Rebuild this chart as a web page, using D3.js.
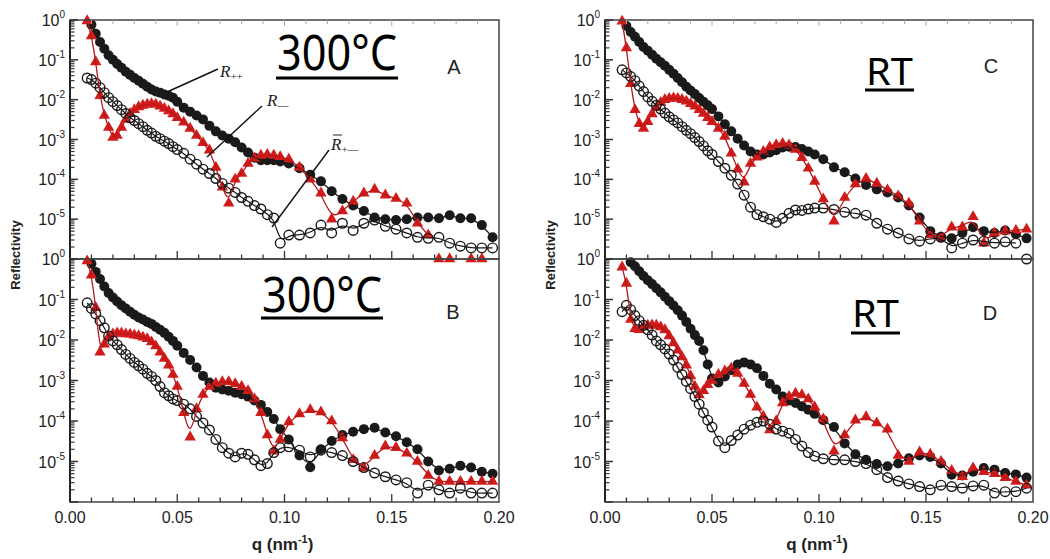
<!DOCTYPE html>
<html>
<head>
<meta charset="UTF-8">
<title>Reflectivity</title>
<script src="https://cdn.jsdelivr.net/npm/d3@7"></script>
<style>
  body { margin: 0; background: #fff; }
  svg { display: block; font-family: "Liberation Sans", Arial, sans-serif; }
</style>
</head>
<body>
<svg id="chart" width="1050" height="559"></svg>
<script>
// q grid shared by all panels (nm^-1)
var q = [
  0.008, 0.010, 0.012, 0.014, 0.016, 0.018, 0.020, 0.022, 0.024, 0.026, 0.028,
  0.030, 0.032, 0.034, 0.036, 0.038, 0.040, 0.042, 0.044, 0.046, 0.048, 0.050,
  0.053, 0.056, 0.059, 0.062, 0.065, 0.068, 0.071, 0.074, 0.077, 0.080, 0.083,
  0.086, 0.089, 0.092, 0.095, 0.098,
  0.102, 0.107, 0.112, 0.117, 0.122, 0.127, 0.132, 0.137, 0.142, 0.147, 0.152,
  0.157, 0.162, 0.167, 0.172, 0.177, 0.182, 0.187, 0.192, 0.197
];

// panel A (300C)
var A_pp = [
  null, 0.76, 0.45, 0.28, 0.19, 0.13, 0.1, 0.079, 0.063, 0.05, 0.042, 0.035, 0.03, 0.025, 0.021, 0.018, 0.016, 0.015, 0.0135, 0.0126, 0.0112, 0.0089,
  0.0063, 0.005, 0.004, 0.0032, 0.0022, 0.0016, 0.00126, 0.00105, 8.5e-4, 6.3e-4, 4.7e-4, 3.5e-4, 3.0e-4, 3.0e-4, 3.0e-4, 2.8e-4,
  2.5e-4, 1.9e-4, 1.3e-4, 8.9e-5, 5.0e-5, 3.2e-5, 2.2e-5, 1.6e-5, 1.1e-5, 1.0e-5, 9.5e-6, 1.0e-5, 1.1e-5, 1.1e-5, 1.05e-5, 1.26e-5, 1.05e-5, 1.05e-5, 7.1e-6, 3.5e-6
];
var A_mm = [
  0.95, 0.4, 0.089, 0.0126, 0.004, 0.002, 0.00112, 0.00126, 0.002, 0.0032, 0.0045, 0.0056, 0.0066, 0.0072, 0.0076, 0.0079, 0.0076, 0.0068, 0.006, 0.0052, 0.0044, 0.0035,
  0.0027, 0.0019, 0.00126, 8.3e-4, 5.4e-4, 2.0e-4, 6.3e-5, 2.5e-5, 1.0e-4, 1.4e-4, 2.5e-4, 3.4e-4, 4.0e-4, 4.2e-4, 4.0e-4, 3.7e-4,
  3.2e-4, 2.0e-4, 1.0e-4, 4.5e-5, 1.0e-5, 1.6e-5, 2.8e-5, 4.5e-5, 5.6e-5, 4.0e-5, 3.3e-5, 2.5e-5, 7.9e-6, 4.0e-6, 1.0e-6, 1.0e-6, null, 1.0e-6, 1.0e-6, null
];
var A_pm = [
  0.035, 0.032, 0.026, 0.02, 0.015, 0.0112, 0.0089, 0.0071, 0.0056, 0.0045, 0.0035, 0.003, 0.0025, 0.0021, 0.0017, 0.00145, 0.0012, 0.00105, 9.1e-4, 7.9e-4, 6.6e-4, 5.6e-4,
  4.5e-4, 3.2e-4, 2.4e-4, 1.8e-4, 1.4e-4, 1.05e-4, 7.9e-5, 6.0e-5, 4.7e-5, 3.5e-5, 2.8e-5, 2.2e-5, 1.8e-5, 1.3e-5, 1.07e-5, 2.5e-6,
  4.0e-6, 4.0e-6, 4.5e-6, 7.1e-6, 4.5e-6, 7.9e-6, 5.2e-6, 7.9e-6, 9.5e-6, 6.6e-6, 5.6e-6, 4.5e-6, 3.5e-6, 3.3e-6, 3.5e-6, 2.5e-6, 2.1e-6, 1.9e-6, 1.9e-6, 1.9e-6
];

// panel B (300C)
var B_pp = [
  null, 0.76, 0.48, 0.32, 0.21, 0.145, 0.112, 0.089, 0.072, 0.06, 0.05, 0.042, 0.036, 0.032, 0.028, 0.025, 0.021, 0.018, 0.015, 0.012, 0.0095, 0.0072,
  0.0048, 0.0032, 0.0021, 0.0013, 8.9e-4, 6.6e-4, 6.0e-4, 5.6e-4, 5.0e-4, 4.6e-4, 4.0e-4, 3.2e-4, 2.5e-4, 1.66e-4, 1.12e-4, 6.3e-5,
  3.5e-5, 1.4e-5, 7.2e-6, 2.0e-5, 3.2e-5, 4.5e-5, 5.4e-5, 6.3e-5, 6.8e-5, 5.2e-5, 4.2e-5, 3.0e-5, 2.0e-5, 1.0e-5, 6.0e-6, 6.6e-6, 7.9e-6, 7.1e-6, 5.6e-6, 5.0e-6
];
var B_mm = [
  0.89, 0.4, 0.063, 0.005, 0.0079, 0.012, 0.014, 0.0148, 0.0148, 0.014, 0.0138, 0.0132, 0.0126, 0.0117, 0.0107, 0.0089, 0.0071, 0.005, 0.0035, 0.0024, 0.0014, 7.1e-4,
  1.6e-4, 4.0e-5, 2.0e-4, 4.5e-4, 7.1e-4, 8.5e-4, 9.3e-4, 9.3e-4, 8.3e-4, 7.1e-4, 5.6e-4, 3.5e-4, 1.6e-4, 4.5e-5, 1.8e-5, 3.5e-5,
  9.5e-5, 1.5e-4, 1.9e-4, 1.66e-4, 1.0e-4, 3.8e-5, 1.1e-5, 6.9e-6, 1.4e-5, 2.4e-5, 2.2e-5, 1.6e-5, 1.0e-5, 4.5e-6, 3.2e-6, 3.2e-6, 3.2e-6, 3.2e-6, 3.2e-6, 3.2e-6
];
var B_pm = [
  0.083, 0.06, 0.044, 0.03, 0.02, 0.0126, 0.0095, 0.0076, 0.0058, 0.0044, 0.0035, 0.0028, 0.0023, 0.0019, 0.0015, 0.00126, 0.001, 7.1e-4, 5.0e-4, 4.2e-4, 3.5e-4, 3.2e-4,
  2.6e-4, 2.0e-4, 1.3e-4, 8.9e-5, 6.0e-5, 3.5e-5, 2.2e-5, 1.6e-5, 1.3e-5, 1.6e-5, 1.5e-5, 1.1e-5, 7.9e-6, 8.9e-6, 1.66e-5, 2.2e-5,
  2.3e-5, 1.9e-5, 1.3e-5, 1.9e-5, 1.66e-5, 1.4e-5, 1.0e-5, 7.1e-6, 5.2e-6, 4.2e-6, 3.5e-6, 3.0e-6, 1.66e-6, 2.6e-6, 2.0e-6, 1.66e-6, 2.2e-6, 1.66e-6, 1.66e-6, 1.66e-6
];

// panel C (RT)
var C_pp = [
  null, 0.71, 0.5, 0.38, 0.28, 0.21, 0.17, 0.135, 0.107, 0.087, 0.071, 0.056, 0.045, 0.035, 0.0275, 0.021, 0.017, 0.0138, 0.011, 0.0089, 0.0072, 0.0058,
  0.0038, 0.0024, 0.0016, 0.00105, 7.1e-4, 5.0e-4, 4.2e-4, 4.2e-4, 4.7e-4, 5.4e-4, 6.3e-4, 6.6e-4, 6.5e-4, 5.8e-4, 5.0e-4, 4.2e-4,
  3.2e-4, 2.0e-4, 1.5e-4, 1.05e-4, 7.2e-5, 5.6e-5, 4.7e-5, 3.5e-5, 2.2e-5, 1.1e-5, 5.0e-6, 3.5e-6, 3.3e-6, 4.5e-6, 6.3e-6, 5.0e-6, 4.5e-6, 5.2e-6, 4.2e-6, 3.3e-6
];
var C_mm = [
  0.93, 0.2, 0.025, 0.0056, 0.0025, 0.0019, 0.0028, 0.0044, 0.0063, 0.0085, 0.01, 0.0107, 0.011, 0.0107, 0.01, 0.0091, 0.0079, 0.0068, 0.0056, 0.0045, 0.0035, 0.0028,
  0.0019, 0.0012, 4.5e-4, 1.8e-4, 8.5e-5, 2.5e-4, 3.6e-4, 5.0e-4, 6.5e-4, 7.4e-4, 7.9e-4, 7.2e-4, 5.6e-4, 3.5e-4, 1.9e-4, 8.9e-5,
  3.2e-5, 8.9e-6, 3.5e-5, 7.6e-5, 1.05e-4, 7.9e-5, 5.4e-5, 3.8e-5, 2.5e-5, 8.9e-6, 4.0e-6, 3.5e-6, 6.3e-6, 6.3e-6, 1.15e-5, 2.5e-6, 4.5e-6, 5.0e-6, 5.2e-6, 5.6e-6
];
var C_pm = [
  0.056, 0.047, 0.038, 0.03, 0.022, 0.016, 0.0117, 0.0091, 0.0072, 0.0058, 0.0046, 0.0037, 0.0031, 0.0026, 0.0021, 0.0017, 0.0014, 0.00112, 8.9e-4, 6.9e-4, 5.2e-4, 4.2e-4,
  2.8e-4, 1.9e-4, 1.26e-4, 7.6e-5, 4.0e-5, 2.0e-5, 1.3e-5, 1.15e-5, 1.0e-5, 8.3e-6, 1.05e-5, 1.4e-5, 1.7e-5, 1.66e-5, 1.8e-5, 1.9e-5,
  1.9e-5, 1.75e-5, 1.5e-5, 1.4e-5, 1.26e-5, 7.9e-6, 5.6e-6, 4.5e-6, 3.2e-6, 2.8e-6, 3.2e-6, 3.5e-6, 1.9e-6, 2.5e-6, 3.0e-6, 2.8e-6, 2.5e-6, 2.7e-6, 2.5e-6, 1.0e-6
];

// panel D (RT)
var D_pp = [
  null, null, 0.83, 0.66, 0.5, 0.38, 0.3, 0.24, 0.19, 0.15, 0.117, 0.091, 0.071, 0.054, 0.04, 0.028, 0.019, 0.0132, 0.0095, 0.0056, 0.0025, 0.00112,
  8.9e-4, 0.00126, 0.0018, 0.0025, 0.0028, 0.0025, 0.002, 0.0013, 8.3e-4, 6.0e-4, 4.0e-4, 3.2e-4, 2.8e-4, 2.3e-4, 1.9e-4, 1.5e-4,
  1.05e-4, 7.1e-5, 2.8e-5, 1.5e-5, 1.1e-5, 8.7e-6, 7.6e-6, 8.9e-6, 1.2e-5, 1.4e-5, 1.3e-5, 8.9e-6, 4.7e-6, 4.5e-6, 5.6e-6, 6.9e-6, 6.3e-6, 5.2e-6, 4.8e-6, 4.0e-6
];
var D_mm = [
  0.63, 0.25, 0.032, 0.019, 0.018, 0.021, 0.023, 0.0234, 0.023, 0.021, 0.0178, 0.0126, 0.0085, 0.0056, 0.0038, 0.0024, 0.0013, 7.1e-4, 4.4e-4, 5.6e-4, 7.9e-4, 0.001,
  0.0014, 0.0017, 0.002, 0.0015, 8.5e-4, 4.5e-4, 2.2e-4, 1.3e-4, 6.0e-5, 1.0e-4, 2.8e-4, 4.0e-4, 4.8e-4, 4.4e-4, 3.5e-4, 2.2e-4,
  1.12e-4, 1.8e-5, 4.5e-5, 1.05e-4, 1.26e-4, 8.9e-5, 6.3e-5, 1.4e-5, 1.0e-5, 1.7e-5, 1.5e-5, 1.0e-5, 6.0e-6, 4.2e-6, 6.9e-6, 5.6e-6, 5.0e-6, 4.0e-6, 3.2e-6, 2.6e-6
];
var D_pm = [
  0.05, 0.072, 0.056, 0.04, 0.03, 0.023, 0.0178, 0.0132, 0.0095, 0.0076, 0.006, 0.0045, 0.0032, 0.0021, 0.0014, 9.5e-4, 6.3e-4, 4.0e-4, 2.6e-4, 1.6e-4, 1.05e-4, 7.1e-5,
  3.2e-5, 2.2e-5, 3.3e-5, 4.5e-5, 6.3e-5, 7.9e-5, 9.3e-5, 1.0e-4, 8.3e-5, 6.3e-5, 5.6e-5, 5.0e-5, 3.5e-5, 2.4e-5, 1.66e-5, 1.35e-5,
  1.17e-5, 1.1e-5, 1.1e-5, 1.0e-5, 8.9e-6, 6.3e-6, 4.0e-6, 3.3e-6, 2.8e-6, 2.4e-6, 2.0e-6, 2.6e-6, 2.4e-6, 2.2e-6, 2.5e-6, 2.6e-6, 1.66e-6, 1.8e-6, 1.8e-6, 2.2e-6
];

var xTickLabels = ["0.00", "0.05", "0.10", "0.15", "0.20"];

var RED = "#d21c1c";
var INK = "#1a1a1a";

var svg = d3.select("#chart");

// layout of the four panels
var panels = [
  { key: "A", pp: A_pp, mm: A_mm, pm: A_pm, left: 70, right: 499, top: 20, bottom: 259, first: true,
    title: "300°C", tx: 277, ty: 70, tw: 120, uy: 78, lx: 454, ly: 74 },
  { key: "B", pp: B_pp, mm: B_mm, pm: B_pm, left: 70, right: 499, top: 259, bottom: 502, first: false,
    title: "300°C", tx: 262, ty: 312, tw: 120, uy: 318, lx: 453, ly: 319 },
  { key: "C", pp: C_pp, mm: C_mm, pm: C_pm, left: 605, right: 1033, top: 20, bottom: 259, first: true,
    title: "RT", tx: 866, ty: 85, tw: 47, uy: 90, lx: 991, ly: 73 },
  { key: "D", pp: D_pp, mm: D_mm, pm: D_pm, left: 605, right: 1033, top: 259, bottom: 502, first: false,
    title: "RT", tx: 852, ty: 327, tw: 47, uy: 333, lx: 990, ly: 320 }
];

function rows(vals) {
  return q.map(function (v, i) { return { q: v, r: vals[i] }; })
          .filter(function (d) { return d.r != null; });
}

function drawPanel(p) {
  var x = d3.scaleLinear().domain([0, 0.2]).range([p.left, p.right]);
  var y = d3.scaleLog().domain([1e-6, 1]).range([p.bottom, p.top]);
  var g = svg.append("g");

  var fit = d3.line()
    .defined(function (d) { return d.r > 1.2e-6; })
    .x(function (d) { return x(d.q); })
    .y(function (d) { return y(d.r); })
    .curve(d3.curveBasis);

  // R++ filled circles
  g.append("g").selectAll("circle").data(rows(p.pp)).enter().append("circle")
    .attr("cx", function (d) { return x(d.q); })
    .attr("cy", function (d) { return y(d.r); })
    .attr("r", 5)
    .attr("fill", INK);

  // R-- red triangles
  g.append("g").selectAll("path").data(rows(p.mm)).enter().append("path")
    .attr("d", d3.symbol().type(d3.symbolTriangle).size(56))
    .attr("transform", function (d) { return "translate(" + x(d.q) + "," + y(d.r) + ")"; })
    .attr("fill", RED);

  // R+- open circles
  g.append("g").selectAll("circle").data(rows(p.pm)).enter().append("circle")
    .attr("cx", function (d) { return x(d.q); })
    .attr("cy", function (d) { return y(d.r); })
    .attr("r", 4.8)
    .attr("fill", "none")
    .attr("stroke", INK)
    .attr("stroke-width", 1.4);

  // fit lines
  g.append("path").datum(rows(p.pp)).attr("d", fit)
    .attr("fill", "none").attr("stroke", INK).attr("stroke-width", 1.3);
  g.append("path").datum(rows(p.pm)).attr("d", fit)
    .attr("fill", "none").attr("stroke", INK).attr("stroke-width", 1.2);
  g.append("path").datum(rows(p.mm)).attr("d", fit)
    .attr("fill", "none").attr("stroke", "#b81818").attr("stroke-width", 1.3);

  // frame
  g.append("rect")
    .attr("x", p.left).attr("y", p.top)
    .attr("width", p.right - p.left).attr("height", p.bottom - p.top)
    .attr("fill", "none").attr("stroke", "#444").attr("stroke-width", 1.5);
  g.append("line")
    .attr("x1", p.left).attr("x2", p.left).attr("y1", p.top).attr("y2", p.bottom)
    .attr("stroke", "#222").attr("stroke-width", 2);

  // y ticks (inward), labels on decades
  y.ticks().forEach(function (t) {
    var e = Math.log10(t);
    var major = Math.abs(e - Math.round(e)) < 1e-9;
    g.append("line")
      .attr("x1", p.left).attr("x2", p.left + (major ? 8 : 4.5))
      .attr("y1", y(t)).attr("y2", y(t))
      .attr("stroke", "#333").attr("stroke-width", major ? 1.5 : 1.2);
    if (major && Math.round(e) > -6) {
      var lab = g.append("text")
        .attr("x", p.left - 5).attr("y", y(t) + 6)
        .attr("text-anchor", "end")
        .attr("font-size", 16).attr("fill", "#222")
        .text("10");
      lab.append("tspan").attr("dy", -8).attr("font-size", 10).text(String(Math.round(e)));
    }
  });

  // x ticks (inward) along the bottom, and faint ones along the top of the upper panels
  x.ticks(20).forEach(function (t) {
    var major = Math.abs(t / 0.05 - Math.round(t / 0.05)) < 1e-6;
    if (t <= 0 || t >= 0.2) return;
    g.append("line")
      .attr("x1", x(t)).attr("x2", x(t))
      .attr("y1", p.bottom).attr("y2", p.bottom - (major ? 8 : 4.5))
      .attr("stroke", "#333").attr("stroke-width", 1.3);
    if (p.first) {
      g.append("line")
        .attr("x1", x(t)).attr("x2", x(t))
        .attr("y1", p.top).attr("y2", p.top + (major ? 6 : 4))
        .attr("stroke", "#aaa").attr("stroke-width", 1);
    }
  });

  if (!p.first) {
    g.selectAll(".xl").data(xTickLabels).enter().append("text")
      .attr("x", function (d) { return x(+d); })
      .attr("y", 523)
      .attr("text-anchor", "middle")
      .attr("font-size", 16).attr("fill", "#222")
      .text(function (d) { return d; });
    var xt = g.append("text")
      .attr("x", x(0.1) - 2).attr("y", 550)
      .attr("text-anchor", "middle")
      .attr("font-size", 17).attr("font-weight", "bold").attr("fill", "#222")
      .text("q (nm");
    xt.append("tspan").attr("dy", -7).attr("font-size", 11).text("-1");
    xt.append("tspan").attr("dy", 7).text(")");
  } else {
    g.append("text")
      .attr("transform", "translate(" + (p.left - 50) + ",255) rotate(-90)")
      .attr("text-anchor", "middle")
      .attr("font-size", 13).attr("font-weight", "bold").attr("fill", "#222")
      .text("Reflectivity");
  }

  // panel title, underlined
  g.append("text")
    .attr("x", p.tx).attr("y", p.ty)
    .attr("font-family", "'Noto Sans', 'Open Sans', sans-serif")
    .attr("font-size", p.title === "RT" ? 39 : 50)
    .attr("textLength", p.tw).attr("lengthAdjust", "spacingAndGlyphs")
    .attr("fill", "#000")
    .text(p.title);
  g.append("line")
    .attr("x1", p.tx - 1).attr("x2", p.tx + p.tw + 1)
    .attr("y1", p.uy).attr("y2", p.uy)
    .attr("stroke", "#000").attr("stroke-width", 3);

  // panel letter
  g.append("text")
    .attr("x", p.lx).attr("y", p.ly)
    .attr("text-anchor", "middle")
    .attr("font-size", 20).attr("fill", "#222")
    .text(p.key);
}

panels.forEach(drawPanel);

// labels with leader lines in panel A
var notes = [
  { x1: 167, y1: 92, x2: 218, y2: 69, tx: 220, ty: 77, sub: "++", bar: false },
  { x1: 207, y1: 157, x2: 262, y2: 106, tx: 267, ty: 106, sub: "\u2014", bar: false },
  { x1: 272, y1: 227, x2: 329, y2: 150, tx: 331, ty: 150, sub: "+\u2014", bar: true }
];
notes.forEach(function (n) {
  svg.append("line")
    .attr("x1", n.x1).attr("y1", n.y1).attr("x2", n.x2).attr("y2", n.y2)
    .attr("stroke", "#111").attr("stroke-width", 1.4);
  var t = svg.append("text")
    .attr("x", n.tx).attr("y", n.ty)
    .attr("font-family", "'Liberation Serif', 'DejaVu Serif', serif")
    .attr("font-style", "italic")
    .attr("font-size", 17).attr("fill", "#222")
    .text("R");
  t.append("tspan").attr("dy", 3).attr("font-size", 11).attr("font-style", "normal").text(n.sub);
  if (n.bar) {
    svg.append("line")
      .attr("x1", n.tx + 2).attr("x2", n.tx + 11)
      .attr("y1", n.ty - 15).attr("y2", n.ty - 15)
      .attr("stroke", "#222").attr("stroke-width", 1);
  }
});
</script>
</body>
</html>
